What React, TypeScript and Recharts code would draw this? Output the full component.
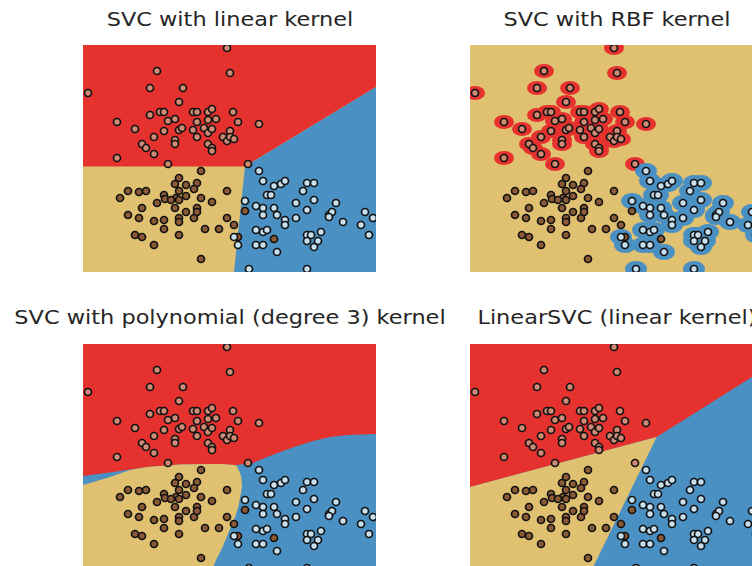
import React from "react";
import { ComposedChart, Area, Scatter, XAxis, YAxis } from "recharts";

// ---- data (feature space) ----
const X_DOMAIN: [number, number] = [0, 29.3];
const Y_DOMAIN: [number, number] = [0, 22.7];

const class0: [number, number][] = [
  [14.4, 22.4], [7.4, 20.1], [14.7, 19.9], [0.5, 17.9], [6.7, 18.4], [10.0, 18.4],
  [9.6, 17.0], [3.4, 15.0], [6.7, 15.7], [7.7, 16.0], [8.1, 16.0], [8.5, 15.1],
  [9.2, 15.3], [11.0, 16.0], [11.4, 16.0], [12.5, 16.0], [12.9, 16.3], [15.0, 16.0],
  [11.4, 15.0], [12.5, 15.2], [13.3, 15.3], [15.5, 15.0], [17.6, 14.8], [5.2, 14.3],
  [8.1, 14.1], [9.6, 14.2], [9.9, 14.4], [11.0, 14.2], [12.1, 14.4], [12.5, 13.9],
  [12.9, 14.3], [14.7, 14.1], [7.1, 13.5], [5.9, 12.8], [6.3, 12.4], [7.1, 11.8],
  [9.2, 13.2], [9.2, 12.8], [11.4, 13.5], [12.5, 12.8], [12.9, 12.4], [12.9, 12.1],
  [14.0, 13.5], [14.4, 13.1], [14.7, 13.5], [15.1, 13.3], [3.4, 11.4], [8.5, 10.8],
  [16.5, 10.8],
];

const class1: [number, number][] = [
  [11.8, 10.1], [9.6, 9.4], [9.2, 8.8], [10.3, 8.7], [11.4, 8.9], [11.1, 8.3],
  [4.5, 8.1], [5.6, 8.0], [6.3, 8.1], [9.6, 8.1], [14.4, 8.1], [3.7, 7.4],
  [8.1, 7.7], [8.2, 7.3], [9.3, 7.4], [10.3, 7.6], [8.8, 7.2], [11.8, 7.4],
  [7.4, 6.9], [9.6, 7.2], [9.2, 6.4], [12.9, 7.0], [5.9, 6.4], [11.4, 6.4],
  [4.5, 5.7], [5.6, 5.4], [7.1, 5.1], [8.1, 5.2], [9.6, 5.4], [10.3, 6.0],
  [11.1, 5.4], [11.4, 6.0], [9.6, 5.0], [14.4, 5.4], [8.1, 4.3], [12.2, 4.3],
  [13.6, 4.3], [5.2, 3.7], [5.9, 3.5], [9.6, 3.7], [7.1, 2.7], [11.8, 1.3],
  [16.2, 6.1], [15.1, 4.7], [15.5, 3.5], [19.1, 3.3],
];

const class2: [number, number][] = [
  [17.6, 10.1], [18.0, 9.1], [19.1, 8.6], [19.8, 8.8], [20.2, 9.1], [22.4, 8.9],
  [23.1, 8.9], [22.0, 8.1], [18.4, 7.7], [18.8, 7.7], [16.2, 7.1], [17.3, 6.6],
  [18.0, 6.4], [19.1, 6.4], [21.3, 6.9], [23.1, 7.2], [25.3, 6.9], [18.0, 5.7],
  [19.4, 5.7], [20.2, 5.2], [20.2, 4.7], [21.3, 5.4], [22.4, 6.2], [24.6, 5.7],
  [24.9, 6.0], [24.6, 5.5], [26.0, 5.0], [28.2, 6.0], [29.0, 5.4], [27.8, 4.7],
  [17.3, 4.2], [18.0, 4.0], [18.4, 4.2], [22.4, 3.7], [22.8, 3.7], [23.8, 4.0],
  [22.4, 3.1], [23.5, 3.1], [23.1, 2.5], [28.6, 3.7], [15.1, 3.5], [15.5, 2.7],
  [17.3, 2.7], [18.0, 2.7], [19.4, 2.0], [16.6, 0.3], [22.4, 0.3],
];

// decision regions: [x, low, high]
const fullPlane: [number, number, number][] = [[0, 0, 22.7], [29.3, 0, 22.7]];

const linearRed: [number, number, number][] = [[0, 10.55, 22.7], [16.2, 10.55, 22.7], [29.3, 18.5, 22.7]];
const linearBlue: [number, number, number][] = [[15.1, 0, 0], [16.2, 0, 10.55], [29.3, 0, 18.5]];

const polyRed: [number, number, number][] = [
  [0, 9.5, 22.7], [3.0, 9.9, 22.7], [6.4, 10.4, 22.7], [9.7, 10.65, 22.7], [13.0, 10.7, 22.7],
  [15.4, 10.6, 22.7], [17.0, 10.8, 22.7], [18.4, 11.4, 22.7], [20.0, 12.0, 22.7],
  [21.4, 12.5, 22.7], [23.0, 13.0, 22.7], [24.7, 13.4, 22.7], [26.4, 13.6, 22.7], [29.3, 13.7, 22.7],
];
const polyYellow: [number, number, number][] = [
  [0, 0, 8.6], [1.7, 0, 9.1], [3.0, 0, 9.5], [4.7, 0, 10.1], [6.4, 0, 10.4], [9.7, 0, 10.65],
  [12.87, 0, 10.7], [13.3, 1.1, 10.7], [13.97, 2.4, 10.7], [14.53, 3.8, 10.65], [15.1, 5.1, 10.6],
  [15.37, 5.9, 10.5], [15.53, 6.4, 10.2], [15.8, 7.8, 9.5], [15.9, 8.5, 8.6],
];

const lsvcRed: [number, number, number][] = [[0, 8.4, 22.7], [18.67, 13.4, 22.7], [29.3, 20.1, 22.7]];
const lsvcYellow: [number, number, number][] = [[0, 0, 8.4], [12.12, 0, 11.65], [18.67, 13.4, 13.4]];

const titles = [
  "SVC with linear kernel",
  "SVC with RBF kernel",
  "SVC with polynomial (degree 3) kernel",
  "LinearSVC (linear kernel)",
];

// ---- styles ----
const RED = "#e6322f";
const TAN = "#e0c172";
const BLUE = "#4a90c2";
const P0 = "#cf8a74";
const P1 = "#8c5a36";
const P2 = "#c6e0f0";

const toRegion = (arr: [number, number, number][]) => arr.map(([x, lo, hi]) => ({ x, range: [lo, hi] }));
const toPts = (arr: [number, number][]) => arr.map(([x, y]) => ({ x, y }));

const W = 293;
const H = 227;

const dot = (fill: string) => (p: any) => (
  <circle cx={p.cx} cy={p.cy} r={3.5} fill={fill} stroke="#121212" strokeWidth={1.7} />
);
const blob = (fill: string, rx: number, ry: number) => (p: any) => (
  <ellipse cx={p.cx} cy={p.cy} rx={rx} ry={ry} fill={fill} stroke="none" />
);

type Region = { data: [number, number, number][]; fill: string };

function Panel({ left, top, bg, regions, rbf }: { left: number; top: number; bg: string; regions: Region[]; rbf?: boolean }) {
  return (
    <div style={{ position: "absolute", left, top, width: W, height: H }}>
      <ComposedChart width={W} height={H} margin={{ top: 0, right: 0, bottom: 0, left: 0 }}>
        <XAxis type="number" dataKey="x" domain={X_DOMAIN} allowDataOverflow hide />
        <YAxis type="number" dataKey="y" domain={Y_DOMAIN} allowDataOverflow hide />
        <Area data={toRegion(fullPlane)} dataKey="range" type="linear" fill={bg} fillOpacity={1} stroke="none" dot={false} activeDot={false} isAnimationActive={false} />
        {regions.map((r, i) => (
          <Area key={i} data={toRegion(r.data)} dataKey="range" type="linear" fill={r.fill} fillOpacity={1} stroke="none" dot={false} activeDot={false} isAnimationActive={false} />
        ))}
        {rbf && <Scatter data={toPts(class0)} shape={blob(RED, 10, 7)} isAnimationActive={false} />}
        {rbf && <Scatter data={toPts(class2)} shape={blob(BLUE, 11, 8)} isAnimationActive={false} />}
        <Scatter data={toPts(class0)} shape={dot(P0)} isAnimationActive={false} />
        <Scatter data={toPts(class1)} shape={dot(P1)} isAnimationActive={false} />
        <Scatter data={toPts(class2)} shape={dot(P2)} isAnimationActive={false} />
      </ComposedChart>
    </div>
  );
}

function Title({ text, cx, top }: { text: string; cx: number; top: number }) {
  return (
    <div
      style={{
        position: "absolute",
        left: cx - 300,
        top,
        width: 600,
        textAlign: "center",
        fontFamily: "'DejaVu Sans', sans-serif",
        fontSize: 19.5,
        lineHeight: "20px",
        color: "#262626",
        whiteSpace: "nowrap",
        transform: "scaleX(1.15)",
        transformOrigin: "center",
      }}
    >
      {text}
    </div>
  );
}

export default function App() {
  return (
    <div style={{ position: "fixed", left: 0, top: 0, width: 752, height: 566, overflow: "hidden", background: "#ffffff" }}>
      <Title text={titles[0]} cx={229.5} top={10} />
      <Title text={titles[1]} cx={616.5} top={10} />
      <Title text={titles[2]} cx={229.5} top={308} />
      <Title text={titles[3]} cx={616.5} top={308} />
      <Panel left={83} top={45} bg={TAN} regions={[{ data: linearRed, fill: RED }, { data: linearBlue, fill: BLUE }]} />
      <Panel left={470} top={45} bg={TAN} regions={[]} rbf />
      <Panel left={83} top={344} bg={BLUE} regions={[{ data: polyRed, fill: RED }, { data: polyYellow, fill: TAN }]} />
      <Panel left={470} top={344} bg={BLUE} regions={[{ data: lsvcRed, fill: RED }, { data: lsvcYellow, fill: TAN }]} />
    </div>
  );
}
